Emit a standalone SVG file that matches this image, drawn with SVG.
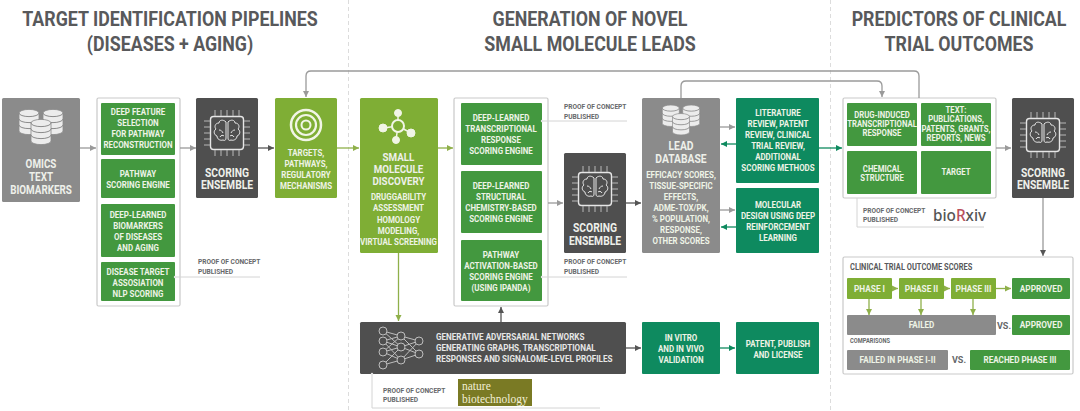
<svg xmlns="http://www.w3.org/2000/svg" xmlns:xlink="http://www.w3.org/1999/xlink" width="1080" height="411" viewBox="0 0 1080 411">
<style>
text{font-family:"Roboto","Liberation Sans",sans-serif;font-weight:700;text-anchor:middle}
.h{font-size:20px;fill:#58595b}
.s{font-size:9px;fill:#eef3e6}
.m{font-size:12px;fill:#eef0ea}
.p{font-size:7.5px;fill:#66686a;text-anchor:start}
.g{fill:#43983f}.l{fill:#7fae35}.t{fill:#0e8a5f}.y{fill:#8b8b8b}.d{fill:#4f4f4f}
.box{fill:#fff;stroke:#c9c9c9;stroke-width:1.2}
.c{fill:none;stroke-width:1.3}
.cg{stroke:#9a9a9a;marker-end:url(#ag)}.cd{stroke:#555;marker-end:url(#ad)}.cl{stroke:#8fb04a;marker-end:url(#al)}.ct{stroke:#0e8a5f;marker-end:url(#at)}
.pl{fill:none;stroke:#d4d4d4;stroke-width:1}
.n{fill:none;stroke:#bdbdbd;stroke-width:1}
.nat{font-family:"Liberation Serif",serif;font-weight:400;font-size:11.500px;text-anchor:start;fill:#f2efd6}
</style>
<defs>
<marker id="ag" markerUnits="userSpaceOnUse" markerWidth="7" markerHeight="7" refX="6" refY="3.5" orient="auto"><path d="M0 .5L6 3.5L0 6.500z" fill="#9a9a9a"/></marker>
<marker id="ad" markerUnits="userSpaceOnUse" markerWidth="7" markerHeight="7" refX="6" refY="3.5" orient="auto"><path d="M0 .5L6 3.5L0 6.500z" fill="#555"/></marker>
<marker id="al" markerUnits="userSpaceOnUse" markerWidth="7" markerHeight="7" refX="6" refY="3.5" orient="auto"><path d="M0 .5L6 3.5L0 6.500z" fill="#8fb04a"/></marker>
<marker id="at" markerUnits="userSpaceOnUse" markerWidth="7" markerHeight="7" refX="6" refY="3.5" orient="auto"><path d="M0 .5L6 3.5L0 6.500z" fill="#0e8a5f"/></marker>
<g id="cyl"><path d="M-10-9a10 3.6 0 0 1 20 0v18a10 3.6 0 0 1-20 0z" fill="#ececec" stroke="#8b8b8b" stroke-width=".8"/><path d="M-10-9a10 3.6 0 0 0 20 0M-10-3a10 3.6 0 0 0 20 0M-10 3a10 3.6 0 0 0 20 0" fill="none" stroke="#8b8b8b" stroke-width="1"/></g>
<g id="db"><use xlink:href="#cyl" href="#cyl" x="-12" y="-5"/><use xlink:href="#cyl" href="#cyl" x="12" y="-5"/><use xlink:href="#cyl" href="#cyl" x="0" y="5"/></g>
<g id="chip" fill="none" stroke="#e6e6e6" stroke-width="1"><rect x="-16.5" y="-16.5" width="33" height="33" rx="3" stroke-width="1.4"/><path d="M-12-17v-6M-6-17v-6M0-17v-6M6-17v-6M12-17v-6M-12 17v6M-6 17v6M0 17v6M6 17v6M12 17v6M-17-12h-6M-17-6h-6M-17 0h-6M-17 6h-6M-17 12h-6M17-12h6M17-6h6M17 0h6M17 6h6M17 12h6" stroke="#b9b9b9"/><path d="M-1-11c-3-3-7-2-7 1c-4 0-5 4-3 6c-3 2-2 6 1 7c0 3 3 5 6 4c2 1 3 0 3-2zM1-11c3-3 7-2 7 1c4 0 5 4 3 6c3 2 2 6-1 7c0 3-3 5-6 4c-2 1-3 0-3-2zM-8-3c2 0 3 1 4 3M-7 4c1-2 3-2 4-1M8-3c-2 0-3 1-4 3M7 4c-1-2-3-2-4-1"/></g>
</defs>
<g id="dividers" fill="none" stroke="#dcdcdc" stroke-width="1" stroke-dasharray="4 3"><path d="M348.500 0V411M830.500 0V411"/></g>
<g id="headers">
<text class="h" transform="translate(170 0) scale(.89 1)"><tspan x="0" y="26">TARGET IDENTIFICATION PIPELINES</tspan><tspan x="0" y="51.500">(DISEASES + AGING)</tspan></text>
<text class="h" transform="translate(590 0) scale(.89 1)"><tspan x="0" y="26">GENERATION OF NOVEL</tspan><tspan x="0" y="51.500">SMALL MOLECULE LEADS</tspan></text>
<text class="h" transform="translate(959 0) scale(.89 1)"><tspan x="0" y="26">PREDICTORS OF CLINICAL</tspan><tspan x="0" y="51.500">TRIAL OUTCOMES</tspan></text>
</g>
<g id="omics"><rect class="y" x="2" y="98" width="78" height="104" rx="1.500"/><use xlink:href="#db" href="#db" x="41" y="127"/>
<text class="m" transform="translate(41 0) scale(.82 1)"><tspan x="0" y="168">OMICS</tspan><tspan x="0" y="181">TEXT</tspan><tspan x="0" y="194">BIOMARKERS</tspan></text></g>
<g id="pipeline-box"><rect class="box" x="97" y="98" width="83" height="208" rx="1.500"/>
<rect class="g" x="101" y="103" width="74" height="52" rx="1"/><rect class="g" x="101" y="159" width="74" height="39" rx="1"/><rect class="g" x="101" y="204" width="74" height="53" rx="1"/><rect class="g" x="101" y="262" width="74" height="39" rx="1"/>
<text class="s" transform="translate(138 0) scale(.88 1)"><tspan x="0" y="115.500">DEEP FEATURE</tspan><tspan x="0" y="126.500">SELECTION</tspan><tspan x="0" y="137.500">FOR PATHWAY</tspan><tspan x="0" y="148.500">RECONSTRUCTION</tspan><tspan x="0" y="177">PATHWAY</tspan><tspan x="0" y="188">SCORING ENGINE</tspan><tspan x="0" y="218">DEEP-LEARNED</tspan><tspan x="0" y="229">BIOMARKERS</tspan><tspan x="0" y="240">OF DISEASES</tspan><tspan x="0" y="251">AND AGING</tspan><tspan x="0" y="275">DISEASE TARGET</tspan><tspan x="0" y="286">ASSOSIATION</tspan><tspan x="0" y="297">NLP SCORING</tspan></text></g>
<g id="scoring-1"><rect class="d" x="196" y="98" width="62" height="100" rx="1.500"/><use xlink:href="#chip" href="#chip" x="227" y="133"/>
<text class="m" transform="translate(227 0) scale(.86 1)"><tspan x="0" y="177">SCORING</tspan><tspan x="0" y="189.500">ENSEMBLE</tspan></text></g>
<g id="targets"><rect class="l" x="275" y="98" width="62" height="100" rx="1.500"/><g fill="none" stroke="#f1f5e6"><circle cx="306" cy="125" r="15" stroke-width="2.500"/><circle cx="306" cy="125" r="10" stroke-width="2.200"/><circle cx="306" cy="125" r="4.500" stroke-width="2"/></g>
<text class="s" transform="translate(306 0) scale(.88 1)"><tspan x="0" y="156">TARGETS,</tspan><tspan x="0" y="167">PATHWAYS,</tspan><tspan x="0" y="178">REGULATORY</tspan><tspan x="0" y="189">MECHANISMS</tspan></text></g>
<g id="small-molecule"><rect class="l" x="360" y="98" width="78" height="155" rx="1.500"/><g fill="#f1f5e6" stroke="#f1f5e6"><path d="M398 126L398 113M398 126L383 128M398 126L411 133M398 126L396 140" stroke-width="1.500"/><circle cx="398" cy="113" r="3.500"/><circle cx="383" cy="128" r="4"/><circle cx="411" cy="133" r="4"/><circle cx="396" cy="140" r="3.500"/><circle cx="398" cy="126" r="6" fill="#7fae35" stroke-width="2"/></g>
<text class="m" style="font-size:11.500px" transform="translate(398.500 0) scale(.85 1)"><tspan x="0" y="161">SMALL</tspan><tspan x="0" y="173">MOLECULE</tspan><tspan x="0" y="185">DISCOVERY</tspan></text>
<text class="s" transform="translate(398.500 0) scale(.88 1)"><tspan x="0" y="200">DRUGGABILITY</tspan><tspan x="0" y="211">ASSESSMENT</tspan><tspan x="0" y="223">HOMOLOGY</tspan><tspan x="0" y="234">MODELING,</tspan><tspan x="0" y="245">VIRTUAL SCREENING</tspan></text></g>
<g id="engines-box"><rect class="box" x="454" y="98" width="94" height="208" rx="1.500"/><rect class="g" x="461" y="103" width="81" height="62" rx="1"/><rect class="g" x="461" y="171" width="81" height="62" rx="1"/><rect class="g" x="461" y="240" width="81" height="61" rx="1"/>
<text class="s" transform="translate(501 0) scale(.88 1)"><tspan x="0" y="121">DEEP-LEARNED</tspan><tspan x="0" y="132">TRANSCRIPTIONAL</tspan><tspan x="0" y="143">RESPONSE</tspan><tspan x="0" y="154">SCORING ENGINE</tspan><tspan x="0" y="189">DEEP-LEARNED</tspan><tspan x="0" y="200">STRUCTURAL</tspan><tspan x="0" y="211">CHEMISTRY-BASED</tspan><tspan x="0" y="222">SCORING ENGINE</tspan><tspan x="0" y="258">PATHWAY</tspan><tspan x="0" y="269">ACTIVATION-BASED</tspan><tspan x="0" y="280">SCORING ENGINE</tspan><tspan x="0" y="291">(USING IPANDA)</tspan></text></g>
<g id="scoring-2"><rect class="d" x="564" y="153" width="62" height="100" rx="1.500"/><use xlink:href="#chip" href="#chip" x="595" y="189"/>
<text class="m" transform="translate(595 0) scale(.86 1)"><tspan x="0" y="232">SCORING</tspan><tspan x="0" y="245">ENSEMBLE</tspan></text></g>
<g id="lead-database"><rect class="y" x="642" y="98" width="78" height="155" rx="1.500"/><use xlink:href="#db" href="#db" transform="translate(681 120) scale(.85)"/>
<text class="m" transform="translate(681 0) scale(.86 1)"><tspan x="0" y="150">LEAD</tspan><tspan x="0" y="163">DATABASE</tspan></text>
<text class="s" transform="translate(681 0) scale(.88 1)"><tspan x="0" y="178">EFFICACY SCORES,</tspan><tspan x="0" y="189">TISSUE-SPECIFIC</tspan><tspan x="0" y="200">EFFECTS,</tspan><tspan x="0" y="211">ADME-TOX/PK,</tspan><tspan x="0" y="222">% POPULATION,</tspan><tspan x="0" y="233">RESPONSE,</tspan><tspan x="0" y="244">OTHER SCORES</tspan></text></g>
<g id="literature"><rect class="t" x="736" y="98" width="83" height="85" rx="1"/>
<text class="s" transform="translate(778 0) scale(.88 1)"><tspan x="0" y="116">LITERATURE</tspan><tspan x="0" y="127">REVIEW, PATENT</tspan><tspan x="0" y="138">REVIEW, CLINICAL</tspan><tspan x="0" y="149">TRIAL REVIEW,</tspan><tspan x="0" y="160">ADDITIONAL</tspan><tspan x="0" y="171">SCORING METHODS</tspan></text></g>
<g id="molecular-design"><rect class="t" x="736" y="188" width="83" height="65" rx="1"/>
<text class="s" transform="translate(778 0) scale(.88 1)"><tspan x="0" y="208">MOLECULAR</tspan><tspan x="0" y="219">DESIGN USING DEEP</tspan><tspan x="0" y="230">REINFORCEMENT</tspan><tspan x="0" y="241">LEARNING</tspan></text></g>
<g id="inputs-box"><rect class="box" x="843" y="98" width="153" height="100" rx="1.500"/><rect class="g" x="847" y="103" width="70" height="43" rx="1"/><rect class="g" x="921" y="103" width="70" height="43" rx="1"/><rect class="g" x="847" y="151" width="70" height="43" rx="1"/><rect class="g" x="921" y="151" width="70" height="43" rx="1"/>
<text class="s" transform="translate(882 0) scale(.86 1)"><tspan x="0" y="118">DRUG-INDUCED</tspan><tspan x="0" y="127">TRANSCRIPTIONAL</tspan><tspan x="0" y="136">RESPONSE</tspan><tspan x="0" y="172.500">CHEMICAL</tspan><tspan x="0" y="181.500">STRUCTURE</tspan></text>
<text class="s" transform="translate(956 0) scale(.86 1)"><tspan x="0" y="113.500">TEXT:</tspan><tspan x="0" y="122.500">PUBLICATIONS,</tspan><tspan x="0" y="132">PATENTS, GRANTS,</tspan><tspan x="0" y="141">REPORTS, NEWS</tspan><tspan x="0" y="175.500">TARGET</tspan></text></g>
<g id="scoring-3"><rect class="d" x="1012" y="98" width="62" height="100" rx="1.500"/><use xlink:href="#chip" href="#chip" x="1043" y="135"/>
<text class="m" transform="translate(1043 0) scale(.86 1)"><tspan x="0" y="177">SCORING</tspan><tspan x="0" y="189.500">ENSEMBLE</tspan></text></g>
<g id="gan"><rect class="d" x="360" y="322" width="266" height="52" rx="1.500"/>
<path class="n" d="M383 331L401 336M383 331L401 347M383 341L401 336M383 341L401 347M383 341L401 360M383 352L401 336M383 352L401 347M383 352L401 360M383 365L401 347M383 365L401 360M401 336L419 341M401 336L419 354M401 347L419 341M401 347L419 354M401 360L419 341M401 360L419 354" stroke-width=".6"/>
<g fill="#4f4f4f" stroke="#bdbdbd"><circle cx="383" cy="331" r="4"/><circle cx="383" cy="341" r="4"/><circle cx="383" cy="352" r="4"/><circle cx="383" cy="365" r="4"/><circle cx="401" cy="336" r="4"/><circle cx="401" cy="347" r="4"/><circle cx="401" cy="360" r="4"/><circle cx="419" cy="341" r="4"/><circle cx="419" cy="354" r="4"/></g>
<text class="s" style="text-anchor:start;fill:#e6e6e6" transform="translate(436 0) scale(.9 1)"><tspan x="0" y="340">GENERATIVE ADVERSARIAL NETWORKS</tspan><tspan x="0" y="351">GENERATING GRAPHS, TRANSCRIPTIONAL</tspan><tspan x="0" y="362">RESPONSES AND SIGNALOME-LEVEL PROFILES</tspan></text></g>
<g id="in-vitro"><rect class="t" x="642" y="322" width="78" height="52" rx="1"/><text class="s" transform="translate(681 0) scale(.88 1)"><tspan x="0" y="341">IN VITRO</tspan><tspan x="0" y="352">AND IN VIVO</tspan><tspan x="0" y="363">VALIDATION</tspan></text></g>
<g id="patent"><rect class="t" x="736" y="322" width="83" height="52" rx="1"/><text class="s" transform="translate(778 0) scale(.88 1)"><tspan x="0" y="347.500">PATENT, PUBLISH</tspan><tspan x="0" y="358.500">AND LICENSE</tspan></text></g>
<g id="clinical"><rect class="box" x="843" y="257" width="230" height="117" rx="1.500"/>
<text class="s" style="fill:#58595b;text-anchor:start;font-size:8.500px" transform="translate(850 0) scale(.88 1)"><tspan x="0" y="270">CLINICAL TRIAL OUTCOME SCORES</tspan></text>
<rect class="l" x="847" y="278" width="45" height="21" rx="1"/><rect class="l" x="899" y="278" width="45" height="21" rx="1"/><rect class="l" x="951" y="278" width="45" height="21" rx="1"/><rect class="g" x="1012" y="278" width="58" height="21" rx="1"/>
<rect class="y" x="847" y="315" width="149" height="20" rx="1"/><rect class="g" x="1012" y="315" width="58" height="20" rx="1"/><rect class="y" x="847" y="350" width="101" height="20" rx="1"/><rect class="g" x="970" y="350" width="100" height="20" rx="1"/>
<text class="s" transform="translate(869.500 0) scale(.92 1)"><tspan x="0" y="292">PHASE I</tspan></text><text class="s" transform="translate(921.500 0) scale(.92 1)"><tspan x="0" y="292">PHASE II</tspan></text><text class="s" transform="translate(973.500 0) scale(.92 1)"><tspan x="0" y="292">PHASE III</tspan></text><text class="s" transform="translate(1041 0) scale(.92 1)"><tspan x="0" y="292">APPROVED</tspan><tspan x="0" y="328.500">APPROVED</tspan></text>
<text class="s" transform="translate(921.500 0) scale(.9 1)"><tspan x="0" y="328.500">FAILED</tspan></text>
<text class="s" transform="translate(897.500 0) scale(.9 1)"><tspan x="0" y="363.500">FAILED IN PHASE I-II</tspan></text><text class="s" transform="translate(1020 0) scale(.9 1)"><tspan x="0" y="363.500">REACHED PHASE III</tspan></text>
<text class="s" style="fill:#66686a" x="1004" y="328.500">VS.</text><text class="s" style="fill:#66686a" x="959" y="363">VS.</text>
<text class="p" style="font-size:6.500px" transform="translate(850 0) scale(.88 1)"><tspan x="0" y="343">COMPARISONS</tspan></text></g>
<g id="proof-labels">
<text class="p" transform="translate(198 0) scale(.88 1)"><tspan x="0" y="264.500">PROOF OF CONCEPT</tspan><tspan x="0" y="274">PUBLISHED</tspan></text>
<text class="p" transform="translate(564 0) scale(.88 1)"><tspan x="0" y="109.500">PROOF OF CONCEPT</tspan><tspan x="0" y="119">PUBLISHED</tspan></text>
<text class="p" transform="translate(564 0) scale(.88 1)"><tspan x="0" y="264.500">PROOF OF CONCEPT</tspan><tspan x="0" y="274">PUBLISHED</tspan></text>
<text class="p" transform="translate(863 0) scale(.88 1)"><tspan x="0" y="213">PROOF OF CONCEPT</tspan><tspan x="0" y="222.500">PUBLISHED</tspan></text>
<text class="p" transform="translate(383 0) scale(.88 1)"><tspan x="0" y="393">PROOF OF CONCEPT</tspan><tspan x="0" y="402.500">PUBLISHED</tspan></text>
</g>
<g id="biorxiv"><text style="font-family:'Noto Sans','DejaVu Sans',sans-serif;font-size:17px;font-weight:500;text-anchor:start;fill:#555" transform="translate(933 0) scale(.9 1)"><tspan x="0" y="221">bio</tspan><tspan fill="#b9505c">R</tspan><tspan>xiv</tspan></text></g>
<g id="nature"><rect x="458" y="379" width="74" height="27" fill="#7a7a24"/><text class="nat" x="462" y="390">nature</text><text class="nat" x="462" y="403">biotechnology</text></g>
<g id="connectors">
<path class="c cg" d="M80 148H96"/><path class="c cg" d="M180 148H196"/><path class="c cd" d="M258 148H274"/>
<path class="c cl" d="M337 148H359"/><path class="c cl" d="M438 148H453"/>
<path class="c cg" d="M548 203H563"/><path class="c cd" d="M626 203H641"/>
<path class="c cg" d="M720 127H735"/><path class="c ct" d="M736 144H721"/>
<path class="c cg" d="M720 210H735"/><path class="c ct" d="M736 227H721"/>
<path class="c ct" d="M819 148H842"/><path class="c cg" d="M996 148H1011"/>
<path class="c cd" d="M1043 198V256" style="stroke:#9a9a9a"/>
<path class="c cl" d="M398.500 253V321"/><path class="c cd" d="M501 322V307"/>
<path class="c cd" d="M626 348H641"/><path class="c ct" d="M720 348H735"/>
<path class="c cg" d="M919 98V76Q919 71 914 71H311Q306 71 306 76V97"/>
<path class="c cg" d="M681 98V86Q681 81 686 81H877Q882 81 882 86V97"/>
<path class="c cl" d="M892 288.500H898"/><path class="c cl" d="M944 288.500H950"/><path class="c cl" d="M996 288.500H1011"/>
<path class="c cl" d="M869 299V315"/><path class="c cl" d="M921 299V315"/><path class="c cl" d="M973 299V315"/>
<path class="pl" d="M175 277H260M542 121H627M542 277H627"/>
<path class="pl" d="M857 198V227H984M372 374V408H600"/>
<g fill="#e4e4e4"><circle cx="175" cy="277" r="1.200"/><circle cx="542" cy="121" r="1.200"/><circle cx="542" cy="277" r="1.200"/><circle cx="372" cy="374" r="1.200"/></g>
</g>
</svg>
